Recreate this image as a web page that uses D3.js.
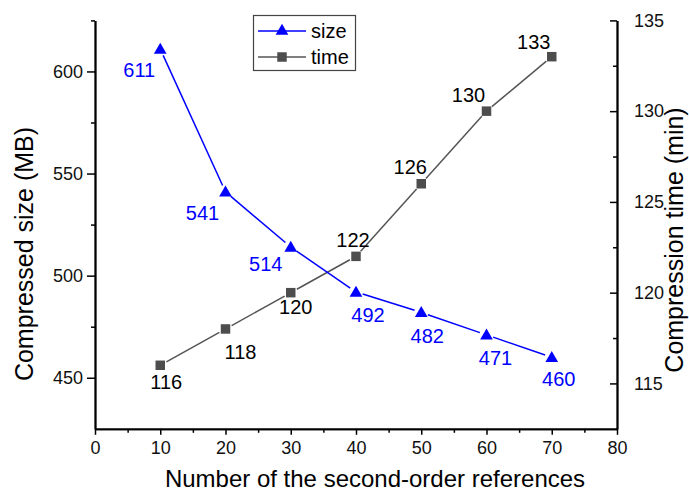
<!DOCTYPE html>
<html>
<head>
<meta charset="utf-8">
<script src="https://cdn.jsdelivr.net/npm/d3@7"></script>
<style>
  body { margin: 0; background: #fff; }
  svg { display: block; font-family: Arial, "Liberation Sans", sans-serif; }
</style>
</head>
<body>
<svg id="chart" width="689" height="492"></svg>
<script>
const refs = [10, 20, 30, 40, 50, 60, 70];
const sizeMB = [611, 541, 514, 492, 482, 471, 460];
const timeMin = [116, 118, 120, 122, 126, 130, 133];
const xTicks = [0, 10, 20, 30, 40, 50, 60, 70, 80];
const leftTicks = [450, 500, 550, 600];
const rightTicks = [115, 120, 125, 130, 135];
const seriesNames = ["size", "time"];
// label offsets (dx, dy) relative to point
const sizeLabelOff = [[-21, 28], [-23, 28], [-25, 24], [12, 30], [6, 31], [9, 30], [7, 29]];
const timeLabelOff = [[6, 24], [15, 30], [5, 21], [-3, -9], [-11, -10], [-18, -9], [-18, -8]];

const svg = d3.select("#chart");
const L = 95, R = 617, T = 20.4, B = 428.8;
const x = d3.scaleLinear().domain([0, 80]).range([L, R]);
const yL = d3.scaleLinear().domain([425, 625]).range([B, T]);
const yR = d3.scaleLinear().domain([112.5, 135]).range([B, T]);

const blue = "#0000ff", grey = "#555555";

// Axes
const axB = d3.axisBottom(x).tickValues(xTicks).tickSize(6).tickSizeOuter(0).tickPadding(6);
const axBm = d3.axisBottom(x).tickValues(d3.range(5, 80, 10)).tickSize(4).tickFormat("").tickSizeOuter(0);
const axL = d3.axisLeft(yL).tickValues(leftTicks).tickSize(8).tickSizeOuter(0).tickPadding(4);
const axLm = d3.axisLeft(yL).tickValues([475, 525, 575, 625]).tickSize(4).tickFormat("").tickSizeOuter(0);
const axR = d3.axisRight(yR).tickValues(rightTicks).tickSize(-7).tickSizeOuter(0).tickPadding(17);
const axRm = d3.axisRight(yR).tickValues([117.5, 122.5, 127.5, 132.5]).tickSize(-4).tickFormat("").tickSizeOuter(0);

function styleAxis(g) {
  g.selectAll("path.domain").attr("stroke", "#000").attr("stroke-width", 1.8);
  g.selectAll(".tick line").attr("stroke", "#000").attr("stroke-width", 1.5);
  g.selectAll(".tick text").attr("fill", "#111").style("font-size", "18px").style("font-family", "Arial, 'Liberation Sans', sans-serif");
}
svg.append("g").attr("transform", `translate(0,${B})`).call(axB).call(styleAxis);
svg.append("g").attr("transform", `translate(0,${B})`).call(axBm).call(styleAxis);
svg.append("g").attr("transform", `translate(${L},0)`).call(axL).call(styleAxis);
svg.append("g").attr("transform", `translate(${L},0)`).call(axLm).call(styleAxis);
svg.append("g").attr("transform", `translate(${R},0)`).call(axR).call(styleAxis);
svg.append("g").attr("transform", `translate(${R},0)`).call(axRm).call(styleAxis);

// Axis titles
svg.append("text").attr("x", (L + R) / 2 + 19).attr("y", 487).attr("text-anchor", "middle")
  .style("font-size", "24px").attr("fill", "#000").text("Number of the second-order references");
svg.append("text").attr("transform", "translate(33,254) rotate(-90)").attr("text-anchor", "middle")
  .style("font-size", "25px").attr("fill", "#000").text("Compressed size (MB)");
svg.append("text").attr("transform", "translate(683,240) rotate(-90)").attr("text-anchor", "middle")
  .style("font-size", "25px").attr("fill", "#000").text("Compression time (min)");

// Segments with gaps near markers
function drawSegments(xs, ys, yScale, color, gap) {
  for (let i = 0; i < xs.length - 1; i++) {
    const x1 = x(xs[i]), y1 = yScale(ys[i]), x2 = x(xs[i + 1]), y2 = yScale(ys[i + 1]);
    const len = Math.hypot(x2 - x1, y2 - y1);
    const ux = (x2 - x1) / len, uy = (y2 - y1) / len;
    svg.append("line")
      .attr("x1", x1 + ux * gap).attr("y1", y1 + uy * gap)
      .attr("x2", x2 - ux * gap).attr("y2", y2 - uy * gap)
      .attr("stroke", color).attr("stroke-width", 1.5);
  }
}
drawSegments(refs, timeMin, yR, grey, 7);
drawSegments(refs, sizeMB, yL, blue, 7);

const tri = d3.symbol().type(d3.symbolTriangle).size(70);
const sq = d3.symbol().type(d3.symbolSquare).size(90);

svg.append("g").selectAll("path").data(refs).join("path")
  .attr("d", sq).attr("transform", (d, i) => `translate(${x(d)},${yR(timeMin[i])})`)
  .attr("fill", "#4d4d4d");
svg.append("g").selectAll("path").data(refs).join("path")
  .attr("d", tri).attr("transform", (d, i) => `translate(${x(d)},${yL(sizeMB[i]) + 1})`)
  .attr("fill", blue);

// Data labels
svg.append("g").selectAll("text").data(refs).join("text")
  .attr("x", (d, i) => x(d) + sizeLabelOff[i][0])
  .attr("y", (d, i) => yL(sizeMB[i]) + sizeLabelOff[i][1])
  .attr("text-anchor", "middle").style("font-size", "20px").attr("fill", blue)
  .text((d, i) => sizeMB[i]);
svg.append("g").selectAll("text").data(refs).join("text")
  .attr("x", (d, i) => x(d) + timeLabelOff[i][0])
  .attr("y", (d, i) => yR(timeMin[i]) + timeLabelOff[i][1])
  .attr("text-anchor", "middle").style("font-size", "20px").attr("fill", "#000")
  .text((d, i) => timeMin[i]);

// Legend
const lg = svg.append("g");
lg.append("rect").attr("x", 253.5).attr("y", 15.5).attr("width", 102).attr("height", 55)
  .attr("fill", "#fff").attr("stroke", "#444").attr("stroke-width", 1.2);
const legendColors = [blue, grey];
seriesNames.forEach((name, i) => {
  const cy = 31 + i * 26;
  lg.append("line").attr("x1", 258).attr("x2", 306).attr("y1", cy).attr("y2", cy)
    .attr("stroke", legendColors[i]).attr("stroke-width", 1.5);
  lg.append("path").attr("d", i === 0 ? tri : sq)
    .attr("transform", `translate(282,${cy})`)
    .attr("fill", i === 0 ? blue : "#4d4d4d");
  lg.append("text").attr("x", 311).attr("y", cy + 7).style("font-size", "20px").attr("fill", "#000").text(name);
});
</script>
</body>
</html>
